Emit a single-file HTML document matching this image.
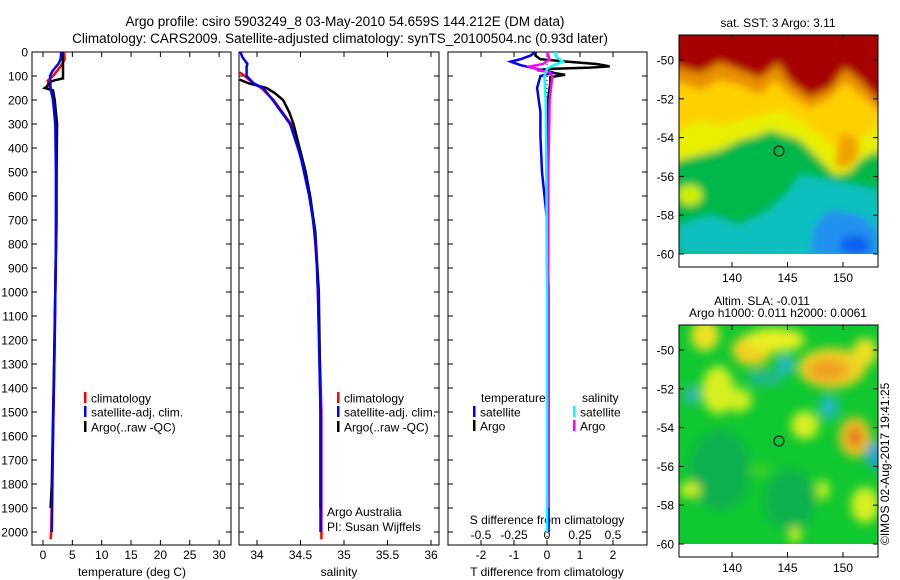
<!DOCTYPE html>
<html><head><meta charset="utf-8"><style>
body{margin:0;background:#fff;}
svg{display:block;font-family:"Liberation Sans",sans-serif;}
text{fill:#000;}
</style></head><body>
<svg id="c" width="900" height="580" viewBox="0 0 900 580" xmlns="http://www.w3.org/2000/svg">
<defs>
<filter id="bl" x="-10%" y="-10%" width="120%" height="120%"><feGaussianBlur stdDeviation="4"/></filter>
<filter id="bl2" x="-50%" y="-50%" width="200%" height="200%"><feGaussianBlur stdDeviation="5"/></filter>
<clipPath id="m1c"><rect x="679" y="35" width="199" height="219"/></clipPath>
<clipPath id="m2c"><rect x="679" y="325" width="199" height="219"/></clipPath>
</defs>
<text x="345" y="26" font-size="13.5" text-anchor="middle">Argo profile: csiro 5903249_8 03-May-2010 54.659S 144.212E (DM data)</text>
<text x="340" y="43" font-size="13.5" text-anchor="middle">Climatology: CARS2009. Satellite-adjusted climatology: synTS_20100504.nc (0.93d later)</text>

<g>
<g clip-path="url(#m1c)" filter="url(#bl)">
<rect x="670" y="25" width="220" height="240" fill="#00b848"/>
<path d="M660,25 L890,25 L890,165 L878,150 L860,160 L850,172 L835,175 L820,160 L800,140 L770,130 L760,135 L740,140 L720,150 L700,155 L679,160 L660,165 Z" fill="#e8f000"/>
<path d="M660,25 L890,25 L890,130 L878,125 L860,140 L850,150 L838,150 L820,135 L800,120 L780,110 L760,115 L740,120 L720,125 L700,120 L679,130 L660,130 Z" fill="#ffd000"/>
<path d="M840,135 Q855,130 860,150 Q850,175 835,165 Z" fill="#f0a000"/>
<path d="M660,25 L890,25 L890,118 L878,110 L860,95 L845,82 L830,98 L810,108 L790,95 L775,80 L760,95 L740,85 L720,80 L700,90 L679,82 L660,85 Z" fill="#e89000"/>
<path d="M660,25 L890,25 L890,110 L878,100 L860,80 L845,68 L830,88 L810,97 L790,82 L778,63 L760,78 L740,70 L720,62 L700,73 L679,67 L660,70 Z" fill="#a60000"/>
<path d="M679,254 L679,225 L710,215 L740,225 L770,210 L790,190 L800,175 L830,180 L878,190 L890,260 Z" fill="#10c0c0"/>
<path d="M810,254 L815,225 L830,210 L860,215 L878,230 L878,260 Z" fill="#2090f0"/>
<ellipse cx="855" cy="245" rx="15" ry="10" fill="#1060f0"/>
<ellipse cx="690" cy="195" rx="12" ry="10" fill="#d0f000"/>
</g>
<rect x="679" y="254" width="199" height="13" fill="#fff"/>
<rect x="679" y="35" width="199" height="232" fill="none" stroke="#000"/>
<circle cx="779" cy="151" r="5" fill="none" stroke="#000"/>
<text x="778" y="27" font-size="12" text-anchor="middle">sat. SST: 3 Argo: 3.11</text>
</g>
<g>
<g clip-path="url(#m2c)">
<rect x="679" y="325" width="199" height="219" fill="#10c830"/>
<g filter="url(#bl2)">
<ellipse cx="720" cy="470" rx="30" ry="40" fill="#10b050"/>
<ellipse cx="790" cy="500" rx="25" ry="30" fill="#10b050"/>
<ellipse cx="705" cy="335" rx="14" ry="16" fill="#f0e020"/>
<ellipse cx="752" cy="350" rx="20" ry="16" fill="#f0d020"/>
<ellipse cx="775" cy="340" rx="30" ry="12" fill="#e8f020"/>
<ellipse cx="718" cy="390" rx="16" ry="24" fill="#d8f020"/>
<ellipse cx="738" cy="400" rx="14" ry="12" fill="#d0f020"/>
<ellipse cx="832" cy="368" rx="34" ry="20" fill="#f0d020"/>
<ellipse cx="828" cy="370" rx="20" ry="11" fill="#f0a020"/>
<ellipse cx="865" cy="352" rx="12" ry="14" fill="#f0e020"/>
<ellipse cx="855" cy="437" rx="16" ry="20" fill="#f0c020"/>
<ellipse cx="855" cy="437" rx="7" ry="10" fill="#e07020"/>
<ellipse cx="805" cy="425" rx="14" ry="14" fill="#d8f020"/>
<ellipse cx="875" cy="455" rx="8" ry="14" fill="#20a0e0"/>
<ellipse cx="829" cy="407" rx="10" ry="12" fill="#20b8c0"/>
<ellipse cx="785" cy="365" rx="8" ry="10" fill="#20b8d0"/>
<ellipse cx="765" cy="378" rx="18" ry="8" fill="#20b890"/>
<ellipse cx="692" cy="395" rx="8" ry="10" fill="#30b8b0"/>
<ellipse cx="690" cy="490" rx="10" ry="8" fill="#d8f020"/>
<ellipse cx="823" cy="490" rx="6" ry="10" fill="#d8f020"/>
<ellipse cx="865" cy="505" rx="14" ry="18" fill="#d8f020"/>
<ellipse cx="795" cy="535" rx="6" ry="8" fill="#d8f020"/>
<ellipse cx="760" cy="470" rx="12" ry="6" fill="#40d020"/>
</g></g>
<rect x="679" y="544" width="199" height="13" fill="#fff"/>
<rect x="679" y="325" width="199" height="232" fill="none" stroke="#000"/>
<circle cx="779" cy="441" r="5" fill="none" stroke="#000"/>
<text x="762" y="305" font-size="12" text-anchor="middle">Altim. SLA: -0.011</text>
<text x="778" y="317" font-size="12" text-anchor="middle">Argo h1000: 0.011 h2000: 0.0061</text>
<text transform="translate(889,545) rotate(-90)" font-size="12">©IMOS 02-Aug-2017 19:41:25</text>
</g>
<g id="dyn"></g>
</svg>
<script>
const depthTicks = [0,100,200,300,400,500,600,700,800,900,1000,1100,1200,1300,1400,1500,1600,1700,1800,1900,2000];
const tempTicks = [0,5,10,15,20,25,30];
const salTicks = [34,34.5,35,35.5,36];
const salTickLabels = ["34","34.5","35","35.5","36"];
const tdiffTicks = [-2,-1,0,1,2];
const sdiffTicks = [-0.5,-0.25,0,0.25,0.5];
const sdiffTickLabels = ["-0.5","-0.25","0","0.25","0.5"];
const lonTicks = [140,145,150];
const latTicks = [-50,-52,-54,-56,-58,-60];

const tClimD = [0,30,60,100,120,150,200,300,500,800,1200,1600,2000,2030];
const tClimV = [3.6,3.7,3.0,1.7,0.8,1.2,1.8,2.2,2.3,2.2,2.0,1.7,1.4,1.3];
const tSatD = [0,30,50,80,100,150,200,300,500,800,1200,1600,2000];
const tSatV = [3.1,3.0,2.6,1.6,1.2,1.3,1.7,2.1,2.2,2.2,2.0,1.7,1.5];
const tArgoD = [0,50,110,118,125,145,150,160,200,300,500,700,1000,1400,1800,1900];
const tArgoV = [3.3,3.4,3.4,2.0,1.2,0.6,0.3,1.7,2.0,2.4,2.3,2.3,2.1,1.8,1.5,1.3];

const sClimD = [85,100,130,150,200,300,400,500,600,750,900,1000,1500,2000,2030];
const sClimV = [33.80,33.86,33.96,34.05,34.19,34.39,34.48,34.55,34.61,34.66,34.69,34.70,34.74,34.74,34.74];
const sSatD = [0,20,50,60,100,130,150,200,300,400,450,500,600,700,800,900,1000,1500,2000];
const sSatV = [33.81,33.83,33.89,33.88,33.88,33.96,34.07,34.18,34.38,34.47,34.51,34.54,34.60,34.645,34.675,34.69,34.70,34.73,34.73];
const sArgoD = [115,130,150,170,200,250,300,400,500,600,750,1000,1500,1900];
const sArgoV = [33.80,33.90,34.11,34.20,34.30,34.37,34.42,34.49,34.56,34.61,34.67,34.71,34.73,34.73];

const dTSatD = [0,15,30,40,55,70,80,85,100,150,250,350,500,700,1000,2000];
const dTSatV = [-0.36,-0.5,-0.8,-1.1,-0.8,-0.3,-0.1,0.2,-0.2,-0.3,-0.2,-0.2,-0.15,0,0.05,0.05];
const dTArgoD = [0,15,30,40,50,60,65,70,75,85,95,105,130,200,400,900];
const dTArgoV = [-0.35,-0.35,-0.2,0.6,1.5,1.9,1.3,0.2,-0.3,0.1,0.55,0.1,0.1,0.03,0,0];
const dSSatD = [0,20,40,55,70,100,200,500,1000,2000];
const dSSatV = [0.06,0.07,0.12,0.05,0,-0.02,-0.01,-0.005,0,0];
const dSArgoD = [0,30,50,60,75,85,100,200,500,1000,1900];
const dSArgoV = [0,0.02,-0.03,-0.13,-0.06,0.02,0.04,0.02,0.01,0.01,0.01];

const Y0=52, PY=0.24;
const yD = d => Y0 + d*PY;
const xT = v => 43 + 5.87*v;
const xS = v => 257 + 87*(v-34);
const xTD = v => 547 + 33*v;
const xSD = v => 547 + 132*v;
const xLon = v => 732 + 11.1*(v-140);
const yLat1 = v => 60 + (-50 - v)*19.4;
const yLat2 = v => 350 + (-50 - v)*19.4;

const NS='http://www.w3.org/2000/svg';
const g=document.getElementById('dyn');
function el(tag,attrs,parent){const e=document.createElementNS(NS,tag);for(const k in attrs)e.setAttribute(k,attrs[k]);(parent||g).appendChild(e);return e;}
function txt(x,y,s,size,anchor,parent){const t=el('text',{x:x,y:y,'font-size':size,'text-anchor':anchor},parent);t.textContent=s;return t;}

const panels=[[32,231],[239,439],[448,647]];
panels.forEach((p,i)=>{
  const r=el('rect',{x:p[0],y:52,width:p[1]-p[0],height:493,fill:'none',stroke:'#000','stroke-width':1});
  
  
  depthTicks.forEach(d=>{
    el('line',{x1:p[0],x2:p[0]+5,y1:yD(d),y2:yD(d),stroke:'#000'});
    el('line',{x1:p[1]-5,x2:p[1],y1:yD(d),y2:yD(d),stroke:'#000'});
  });
});
depthTicks.forEach(d=>{
  const t=txt(28,yD(d)+4.5,String(d),12,'end');
  
  
});
function xTicks(vals,labels,fx,p,yLab){
  vals.forEach((v,i)=>{
    el('line',{x1:fx(v),x2:fx(v),y1:545,y2:540,stroke:'#000'});
    el('line',{x1:fx(v),x2:fx(v),y1:52,y2:57,stroke:'#000'});
    const t=txt(fx(v),yLab,labels[i],12,'middle');
    
    
  });
}
xTicks(tempTicks,tempTicks.map(String),xT,0,559);
xTicks(salTicks,salTickLabels,xS,1,559);
xTicks(tdiffTicks,tdiffTicks.map(String),xTD,2,559);
sdiffTicks.forEach((v,i)=>{
  const t=txt(xSD(v),539,sdiffTickLabels[i],12,'middle');
  
  
});
let t;
t=txt(132,576,'temperature (deg C)',12,'middle');


t=txt(339,576,'salinity',12,'middle');


t=txt(547,576,'T difference from climatology',12,'middle');


t=txt(547,524,'S difference from climatology',12,'middle');


t=txt(327,516,'Argo Australia',12,'start');


t=txt(327,531,'PI: Susan Wijffels',12,'start');



const z=el('line',{x1:xTD(0),x2:xTD(0),y1:52,y2:545,stroke:'#000','stroke-dasharray':'1,3'});



function series(D,V,fx,color,name,w){
  const pts=D.map((d,i)=>fx(V[i]).toFixed(1)+','+yD(d).toFixed(1)).join(' ');
  const pl=el('polyline',{points:pts,fill:'none',stroke:color,'stroke-width':w||2.5,'stroke-linejoin':'miter'});
  
  
}
series(tClimD,tClimV,xT,'#f00','temp-climatology-line');
series(tArgoD,tArgoV,xT,'#000','temp-argo-line');
series(tSatD,tSatV,xT,'#00f','temp-satellite-line');
series(sClimD,sClimV,xS,'#f00','sal-climatology-line');
series(sArgoD,sArgoV,xS,'#000','sal-argo-line');
series(sSatD,sSatV,xS,'#00f','sal-satellite-line');
series(dTArgoD,dTArgoV,xTD,'#000','tdiff-argo-line');
series(dTSatD,dTSatV,xTD,'#00f','tdiff-satellite-line');
series(dSArgoD,dSArgoV,xSD,'#f0f','sdiff-argo-line');
series(dSSatD,dSSatV,xSD,'#0ff','sdiff-satellite-line');

function legend(x,y,color,label){
  const m=el('rect',{x:x,y:y-6,width:2.5,height:11,fill:color});
  
  
  const tt=txt(x+7,y+4.5,label,12,'start');
  
  
}
[[84,'#f00','climatology',398],[84,'#00f','satellite-adj. clim.',412],[84,'#000','Argo(..raw -QC)',427],
 [337,'#f00','climatology',398],[337,'#00f','satellite-adj. clim.',412],[337,'#000','Argo(..raw -QC)',427],
 [473,'#00f','satellite',412],[473,'#000','Argo',426],[573,'#0ff','satellite',412],[573,'#f0f','Argo',426]]
 .forEach(a=>legend(a[0],a[3],a[1],a[2]));
t=txt(481,402,'temperature',12,'start');


t=txt(582,402,'salinity',12,'start');



[[yLat1,35,267],[yLat2,325,557]].forEach(m=>{
  latTicks.forEach(v=>{
    el('line',{x1:679,x2:684,y1:m[0](v),y2:m[0](v),stroke:'#000'});
    el('line',{x1:873,x2:878,y1:m[0](v),y2:m[0](v),stroke:'#000'});
    const tt=txt(674,m[0](v)+4.5,String(v),12,'end');
    
    
  });
  lonTicks.forEach(v=>{
    el('line',{x1:xLon(v),x2:xLon(v),y1:m[2],y2:m[2]-5,stroke:'#000'});
    el('line',{x1:xLon(v),x2:xLon(v),y1:m[1],y2:m[1]+5,stroke:'#000'});
    const tt=txt(xLon(v),m[2]+15,String(v),12,'middle');
    
    
  });
});
</script>
</body></html>
